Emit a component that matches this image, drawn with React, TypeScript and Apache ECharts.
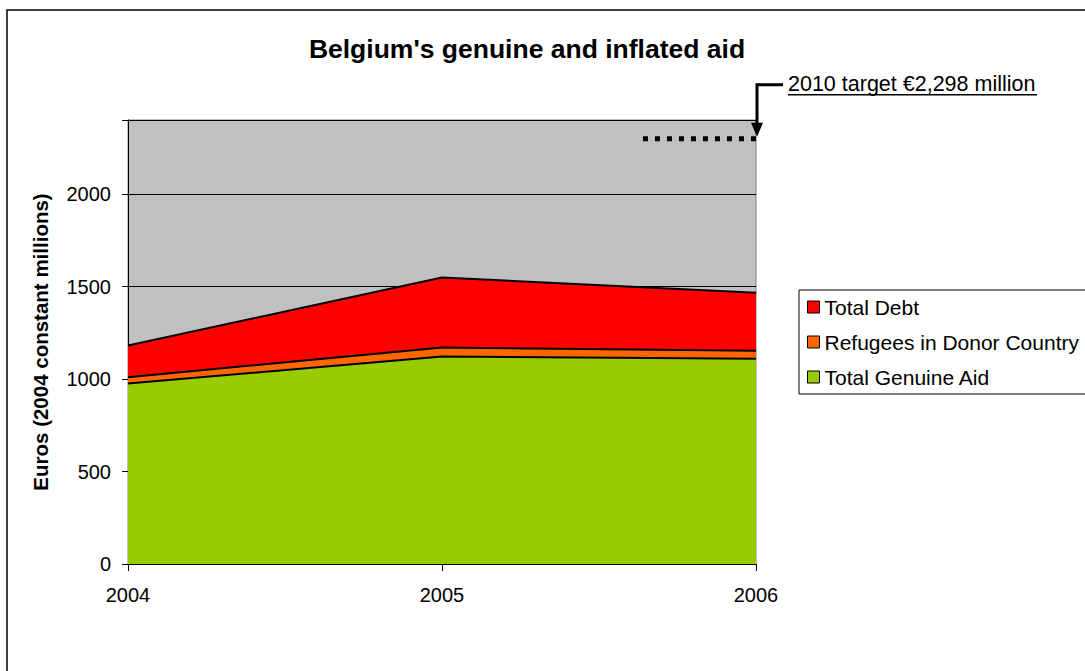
import React, { useEffect, useRef } from "react";
import * as echarts from "echarts";

const years = ["2004", "2005", "2006"];
const genuineAid = [976, 1121, 1110];
const refugees = [34, 49, 43];
const totalDebt = [171, 379, 313];
const targetValue = 2298;
const targetYearRange = [2004, 2006];
const targetLineStart = 2005.64;
const targetLineEnd = 2006;
const yTicks = [0, 500, 1000, 1500, 2000];

const FONT = "Liberation Sans, Arial, sans-serif";

export default function App() {
  const ref = useRef<HTMLDivElement>(null);
  useEffect(() => {
    if (!ref.current) return;
    const chart = echarts.init(ref.current, undefined, { renderer: "svg" });
    const areaSeries = (name: string, vals: number[], color: string) => ({
      name,
      type: "line",
      stack: "total",
      data: vals,
      symbol: "none",
      color,
      lineStyle: { color: "#000", width: 2 },
      areaStyle: { color, opacity: 1 },
      itemStyle: { color, borderColor: "#000", borderWidth: 1 },
      z: 2,
    });
    chart.setOption({
      animation: false,
      textStyle: { fontFamily: FONT },
      title: {
        text: "Belgium's genuine and inflated aid",
        left: 522,
        textAlign: "center",
        top: 30,
        textStyle: { fontFamily: FONT, fontSize: 26.5, fontWeight: "bold", color: "#000" },
      },
      grid: {
        left: 128,
        right: 329,
        top: 120,
        bottom: 107,
        show: true,
        backgroundColor: "#c0c0c0",
        borderColor: "#808080",
        borderWidth: 1,
      },
      legend: {
        orient: "vertical",
        left: 799,
        top: 290,
        data: ["Total Debt", "Refugees in Donor Country", "Total Genuine Aid"],
        icon: "rect",
        itemWidth: 12,
        itemHeight: 12,
        itemGap: 11,
        itemTextGap: 7,
        padding: [5, 60, 5, 8],
        borderColor: "#000",
        borderWidth: 1,
        itemStyle: { borderColor: "#000", borderWidth: 1 },
        textStyle: { fontFamily: FONT, fontSize: 21, color: "#000", lineHeight: 24 },
      },
      xAxis: [
        {
          type: "category",
          data: years,
          boundaryGap: false,
          axisLine: { show: true, lineStyle: { color: "#000", width: 1 } },
          axisTick: { show: true, length: 7, lineStyle: { color: "#000" } },
          splitLine: { show: false },
          axisLabel: {
            fontFamily: FONT,
            fontSize: 20,
            color: "#000",
            margin: 21,
          },
        },
        {
          type: "value",
          min: targetYearRange[0],
          max: targetYearRange[1],
          interval: 1,
          show: false,
        },
      ],
      yAxis: {
        type: "value",
        min: 0,
        max: 2400,
        interval: 500,
        name: "Euros (2004 constant millions)",
        nameLocation: "middle",
        nameGap: 77,
        nameTextStyle: { fontFamily: FONT, fontSize: 20.5, fontWeight: "bold", color: "#000" },
        axisLine: { show: true, lineStyle: { color: "#000", width: 1 } },
        axisTick: { show: true, length: 6, lineStyle: { color: "#000" } },
        splitLine: { show: true, lineStyle: { color: "#000", width: 1 } },
        axisLabel: {
          fontFamily: FONT,
          fontSize: 20,
          color: "#000",
          margin: 17,
          formatter: (v: number) => (yTicks.includes(v) ? String(v) : ""),
        },
      },
      series: [
        areaSeries("Total Genuine Aid", genuineAid, "#99cc00"),
        areaSeries("Refugees in Donor Country", refugees, "#ff6600"),
        areaSeries("Total Debt", totalDebt, "#ff0000"),
        {
          name: "2010 target",
          type: "line",
          xAxisIndex: 1,
          data: [
            [targetLineStart, targetValue],
            [targetLineEnd, targetValue],
          ],
          symbol: "none",
          lineStyle: { color: "#000", width: 5, type: [5, 7], cap: "butt" },
          z: 5,
        },
      ],
    });
    const tip = chart.convertToPixel({ xAxisIndex: 1, yAxisIndex: 0 }, [targetLineEnd, targetValue]) as number[];
    const tx = tip[0] + 1;
    const ty = tip[1] - 2;
    const hy = ty - 52;
    chart.setOption({
      graphic: [
        {
          type: "rect",
          shape: { x: 7, y: 10, width: 1100, height: 700 },
          style: { fill: "none", stroke: "#000", lineWidth: 1.5 },
          silent: true,
          z: 100,
        },
        {
          type: "polyline",
          shape: { points: [[tx + 26, hy], [tx, hy], [tx, ty - 12]] },
          style: { stroke: "#000", lineWidth: 3, fill: "none" },
          z: 100,
        },
        {
          type: "polygon",
          shape: { points: [[tx - 6, ty - 14], [tx + 6, ty - 14], [tx, ty]] },
          style: { fill: "#000" },
          z: 100,
        },
        {
          type: "text",
          x: tx + 31,
          y: hy - 1,
          style: {
            text: "2010 target €2,298 million",
            font: `21.5px ${FONT}`,
            fill: "#000",
            verticalAlign: "middle",
          },
          z: 100,
        },
        {
          type: "line",
          shape: { x1: tx + 31, y1: hy + 10, x2: tx + 280, y2: hy + 10 },
          style: { stroke: "#000", lineWidth: 1.5 },
          z: 100,
        },
      ],
    });
    return () => chart.dispose();
  }, []);
  return (
    <div
      ref={ref}
      style={{ position: "absolute", left: 0, top: 0, width: 1085, height: 671 }}
    />
  );
}
